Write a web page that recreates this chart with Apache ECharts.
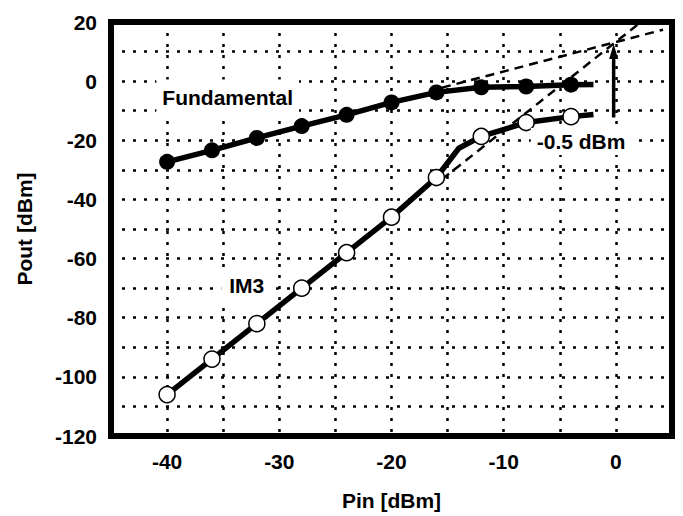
<!DOCTYPE html>
<html>
<head>
<meta charset="utf-8">
<script src="https://cdn.jsdelivr.net/npm/echarts@6/dist/echarts.min.js"></script>
<style>
html,body{margin:0;padding:0;background:#fff;}
#chart{width:683px;height:516px;}
</style>
</head>
<body>
<div id="chart"></div>
<script>
// ---- data ----
const pinMarkers = [-40, -36, -32, -28, -24, -20, -16, -12, -8, -4];
const fundamentalPout = [-27.3, -23.4, -19.2, -15.2, -11.4, -7.2, -3.8, -2.1, -1.8, -1.2];
const fundamentalTail = [[-2, -1.1]];
const im3Pout = [-106, -94, -82, -70, -58, -46, -32.6, -18.7, -14, -12];
const im3Bend = [[-14, -22.7]];
const im3Tail = [[-2, -11.3]];
const fundExtrapolation = [[-15.5, -2.2], [4.2, 17.4]];
const im3Extrapolation = [[-15.5, -33.2], [2, 19.3]];
const interceptArrow = [[-0.2, -12.3], [-0.2, 12.6]];
const xTickLabels = [-40, -30, -20, -10, 0];
const yTickLabels = [20, 0, -20, -40, -60, -80, -100, -120];
const annotationTexts = ['Fundamental', 'IM3', '-0.5 dBm'];
const annotationAt = [[-34.6, -5.4], [-32.9, -69.2], [-3.1, -20.4]];

// ---- build series ----
const fundPts = pinMarkers.map((x, i) => [x, fundamentalPout[i]]);
const im3Pts = pinMarkers.map((x, i) => [x, im3Pout[i]]);
const fundLine = fundPts.concat(fundamentalTail);
const im3Line = im3Pts.slice(0, 7).concat(im3Bend, im3Pts.slice(7), im3Tail);
const arrowShaft = [interceptArrow[0], [interceptArrow[1][0], interceptArrow[1][1] - 2.5]];

const font = 'Liberation Sans, Arial, Helvetica, sans-serif';
const chart = echarts.init(document.getElementById('chart'), null, {renderer: 'svg'});
const dotted = {type: [3, 8], color: '#000', width: 2.5};
const boxPad = [[9, 6, 5, 6], [5, 8, 5, 8], [3, 6, 3, 6]];

chart.setOption({
  animation: false,
  backgroundColor: '#fff',
  grid: {left: 111, right: 11, top: 22, bottom: 79, show: true, borderColor: '#000', borderWidth: 6, backgroundColor: 'transparent', z: 10},
  xAxis: {
    type: 'value', min: -45, max: 5, interval: 5,
    name: 'Pin [dBm]', nameLocation: 'middle', nameGap: 54,
    nameTextStyle: {fontFamily: font, fontWeight: 'bold', fontSize: 21, color: '#000'},
    axisLine: {show: false}, axisTick: {show: false},
    axisLabel: {margin: 15, fontFamily: font, fontWeight: 'bold', fontSize: 21, color: '#000',
      formatter: v => xTickLabels.indexOf(v) >= 0 ? String(v) : ''},
    splitLine: {show: true, lineStyle: dotted}
  },
  yAxis: {
    type: 'value', min: -120, max: 20, interval: 10,
    name: 'Pout [dBm]', nameLocation: 'middle', nameGap: 76, nameRotate: 90,
    nameTextStyle: {fontFamily: font, fontWeight: 'bold', fontSize: 21, color: '#000'},
    axisLine: {show: false}, axisTick: {show: false},
    axisLabel: {margin: 14, fontFamily: font, fontWeight: 'bold', fontSize: 21, color: '#000',
      formatter: v => yTickLabels.indexOf(v) >= 0 ? String(v) : ''},
    splitLine: {show: true, lineStyle: dotted}
  },
  series: [
    {type: 'line', data: fundExtrapolation, symbol: 'none', z: 3,
      lineStyle: {color: '#000', width: 2.5, type: [9, 6]}},
    {type: 'line', data: im3Extrapolation, symbol: 'none', z: 3,
      lineStyle: {color: '#000', width: 2.5, type: [9, 6]}},
    {type: 'line', data: fundLine, symbol: 'none', z: 4,
      lineStyle: {color: '#000', width: 5.5}},
    {type: 'line', data: im3Line, symbol: 'none', z: 4,
      lineStyle: {color: '#000', width: 5.5}},
    {type: 'scatter', data: fundPts, symbol: 'circle', symbolSize: 16, z: 5,
      itemStyle: {color: '#000', opacity: 1}},
    {type: 'scatter', data: im3Pts, symbol: 'circle', symbolSize: 16, z: 5,
      itemStyle: {color: '#fff', borderColor: '#000', borderWidth: 1.5, opacity: 1}},
    {type: 'line', data: arrowShaft, z: 6, symbol: 'none',
      lineStyle: {color: '#000', width: 3.5}},
    {type: 'scatter', data: [interceptArrow[1]], z: 6,
      symbol: 'triangle', symbolSize: [9, 15], symbolOffset: [0, 7.5],
      itemStyle: {color: '#000', opacity: 1}},
    {type: 'scatter', z: 7, symbolSize: 0,
      itemStyle: {opacity: 1},
      data: annotationAt.map((p, i) => ({value: p, name: annotationTexts[i],
        label: {padding: boxPad[i]}})),
      label: {show: true, position: 'inside', formatter: p => p.name, opacity: 1,
        fontFamily: font, fontWeight: 'bold', fontSize: 21, color: '#000',
        backgroundColor: '#fff'}}
  ]
});
</script>
</body>
</html>
